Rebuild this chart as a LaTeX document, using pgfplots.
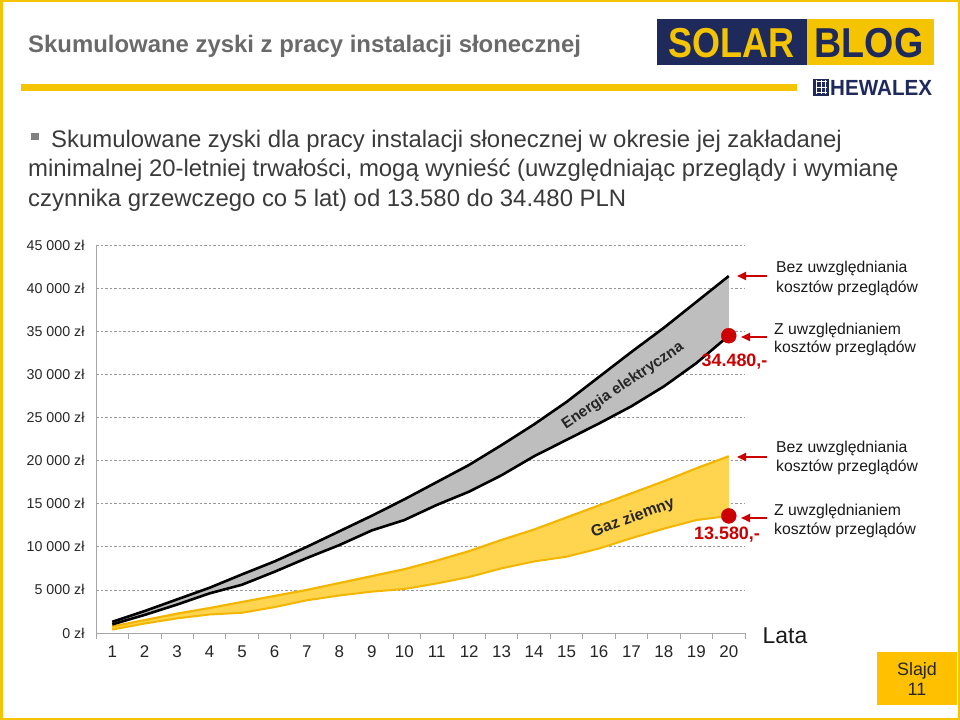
\documentclass[border=0pt]{standalone}
\usepackage{pgfplots}
\pgfplotsset{compat=1.18}
\usepackage{pgfplotstable}
\usepgfplotslibrary{fillbetween}
\usetikzlibrary{arrows.meta}
\usepackage{fontspec}
\setmainfont{Liberation Sans}
\usepackage{graphicx}

\definecolor{navy}{HTML}{1F2A5C}
\definecolor{gold}{HTML}{F5C400}
\definecolor{slajd}{HTML}{FFC000}
\definecolor{gasfill}{HTML}{FFD54F}
\definecolor{gasline}{HTML}{F2B600}
\definecolor{elfill}{HTML}{BEBEBE}
\definecolor{dotred}{HTML}{CC0000}
\definecolor{bodytext}{HTML}{3A3A3A}
\definecolor{titlegray}{HTML}{6A6A6A}
\definecolor{tickgray}{HTML}{A6A6A6}

\pgfplotstableread{
year eu    el    gu    gl
1    1300  1000  750   400
2    2550  2100  1500  1100
3    3900  3300  2250  1700
4    5250  4600  2900  2150
5    6800  5600  3600  2350
6    8300  7100  4300  3000
7    10000 8700  5000  3800
8    11800 10200 5800  4350
9    13600 11900 6600  4800
10   15500 13100 7400  5100
11   17500 14850 8400  5750
12   19500 16400 9500  6500
13   21800 18300 10800 7500
14   24200 20500 12000 8300
15   26800 22400 13400 8850
16   29700 24300 14800 9800
17   32600 26300 16200 11000
18   35400 28600 17600 12100
19   38400 31300 19100 13100
20   41400 34480 20500 13580
}\data

\begin{document}
\begin{tikzpicture}
\begin{scope}[x=1bp,y=-1bp]
\useasboundingbox (0,0) rectangle (960,720);
\end{scope}

\begin{axis}[
  at={(96bp,-633bp)}, anchor=south west,
  scale only axis, width=649bp, height=388bp,
  xmin=0.5, xmax=20.5, ymin=0, ymax=45000,
  clip=false,
  axis x line*=bottom, axis y line*=left,
  axis line style={tickgray, line width=0.8bp},
  xtick={1,...,20},
  major tick length=0pt,
  extra x ticks={0.5,1.5,...,20.5},
  extra x tick labels={},
  extra x tick style={major tick length=6bp, tick align=outside, tick style={tickgray, line width=0.8bp}, grid=none},
  ytick={0,5000,...,45000},
  scaled y ticks=false,
  yticklabels={0 zł,5 000 zł,10 000 zł,15 000 zł,20 000 zł,25 000 zł,30 000 zł,35 000 zł,40 000 zł,45 000 zł},
  /pgf/number format/assume math mode=true,
  ymajorgrids,
  major grid style={black!40, dash pattern=on 2.5bp off 2bp, line width=0.8bp},
  yticklabel style={font=\fontsize{14.3}{14.3}\selectfont, text=black!85, xshift=-8bp},
  xticklabel style={font=\fontsize{17}{17}\selectfont, text=black!85, text height=12bp, text depth=0pt, yshift=-9bp},
]
\addplot[draw=none, name path=eu] table[x=year,y=eu]{\data};
\addplot[draw=none, name path=el] table[x=year,y=el]{\data};
\addplot[draw=none, name path=gu] table[x=year,y=gu]{\data};
\addplot[draw=none, name path=gl] table[x=year,y=gl]{\data};
\addplot[fill=elfill, draw=none] fill between[of=eu and el];
\addplot[fill=gasfill, draw=none] fill between[of=gu and gl];
\addplot[gasline, line width=2.2bp] table[x=year,y=gu]{\data};
\addplot[gasline, line width=2bp] table[x=year,y=gl]{\data};
\addplot[black, line width=2.6bp, line join=round] table[x=year,y=eu]{\data};
\addplot[black, line width=2.6bp, line join=round] table[x=year,y=el]{\data};
\addplot[only marks, mark=*, mark size=7.5bp, dotred] coordinates {(20,34480) (20,13580)};
\end{axis}

\begin{scope}[x=1bp,y=-1bp]
% slide frame
\draw[gold, line width=2.5bp] (1.25,1.25) rectangle (958.75,718.75);
% title
\node[anchor=west, text=titlegray, font=\fontsize{24}{28}\bfseries\selectfont, inner sep=0] at (28,46) {Skumulowane zyski z pracy instalacji słonecznej};
\fill[gold] (21,84) rectangle (797,91);
% logo
\fill[navy] (657,19) rectangle (807,65);
\fill[gold] (807,19) rectangle (934,65);
\node[text=gold, font=\fontsize{42}{42}\bfseries\selectfont, inner sep=0] at (731,43) {\scalebox{0.86}[1]{SOLAR}};
\node[text=navy, font=\fontsize{42}{42}\bfseries\selectfont, inner sep=0] at (869,43) {\scalebox{0.9}[1]{BLOG}};
\fill[navy] (813,79) rectangle (829,96);
\draw[white, line width=1bp] (815.5,82) -- (826.5,82) (815.5,87.5) -- (826.5,87.5) (815.5,93) -- (826.5,93)
  (816.5,80.5) -- (816.5,94.5) (821,80.5) -- (821,94.5) (825.5,80.5) -- (825.5,94.5);
\node[anchor=west, text=navy, font=\fontsize{22}{22}\bfseries\selectfont, inner sep=0] at (830,88) {\scalebox{0.94}[1]{HEWALEX}};
% bullet text
\fill[gray] (31,133) rectangle (38.5,140.5);
\node[anchor=base west, text=bodytext, font=\fontsize{24}{28}\selectfont, inner sep=0] at (51,148) {Skumulowane zyski dla pracy instalacji słonecznej w okresie jej zakładanej};
\node[anchor=base west, text=bodytext, font=\fontsize{24}{28}\selectfont, inner sep=0] at (28,177) {minimalnej 20-letniej trwałości, mogą wynieść (uwzględniając przeglądy i wymianę};
\node[anchor=base west, text=bodytext, font=\fontsize{24}{28}\selectfont, inner sep=0] at (28,206) {czynnika grzewczego co 5 lat) od 13.580 do 34.480 PLN};
% rotated labels
\node[rotate=34, font=\fontsize{15.3}{16}\bfseries\selectfont, text=black!85, inner sep=0] at (623,386) {Energia elektryczna};
\node[rotate=20.5, font=\fontsize{16}{16}\bfseries\selectfont, text=black!85, inner sep=0] at (633,518) {Gaz ziemny};
% values
\node[text=dotred, font=\fontsize{18}{18}\bfseries\selectfont] at (734.5,362) {34.480,-};
\node[text=dotred, font=\fontsize{18}{18}\bfseries\selectfont] at (727,535) {13.580,-};
% arrows
\foreach \yy/\xe in {276/737, 337/741, 457/737, 518/741}{
  \draw[dotred, line width=2bp, -{Triangle[length=9bp,width=8bp]}] (767,\yy) -- (\xe,\yy);
}
% annotation texts
\foreach \ya/\yb/\t in {268/288/Bez uwzględniania, 448/467/Bez uwzględniania}{
  \node[anchor=west, font=\fontsize{15.8}{16}\selectfont, text=black!90, inner sep=0] at (776,\ya) {\t};
  \node[anchor=west, font=\fontsize{15.8}{16}\selectfont, text=black!90, inner sep=0] at (776,\yb) {kosztów przeglądów};
}
\foreach \ya/\yb/\t in {330/348/Z uwzględnianiem, 511/530/Z uwzględnianiem}{
  \node[anchor=west, font=\fontsize{15.8}{16}\selectfont, text=black!90, inner sep=0] at (774,\ya) {\t};
  \node[anchor=west, font=\fontsize{15.8}{16}\selectfont, text=black!90, inner sep=0] at (774,\yb) {kosztów przeglądów};
}
% Lata
\node[font=\fontsize{23}{23}\selectfont, text=black!90] at (785,636) {Lata};
% slide number
\fill[slajd] (877,652) rectangle (957,705);
\node[align=center, font=\fontsize{18}{21}\selectfont, text=black!85] at (917,679) {Slajd\\11};
\end{scope}
\end{tikzpicture}
\end{document}
